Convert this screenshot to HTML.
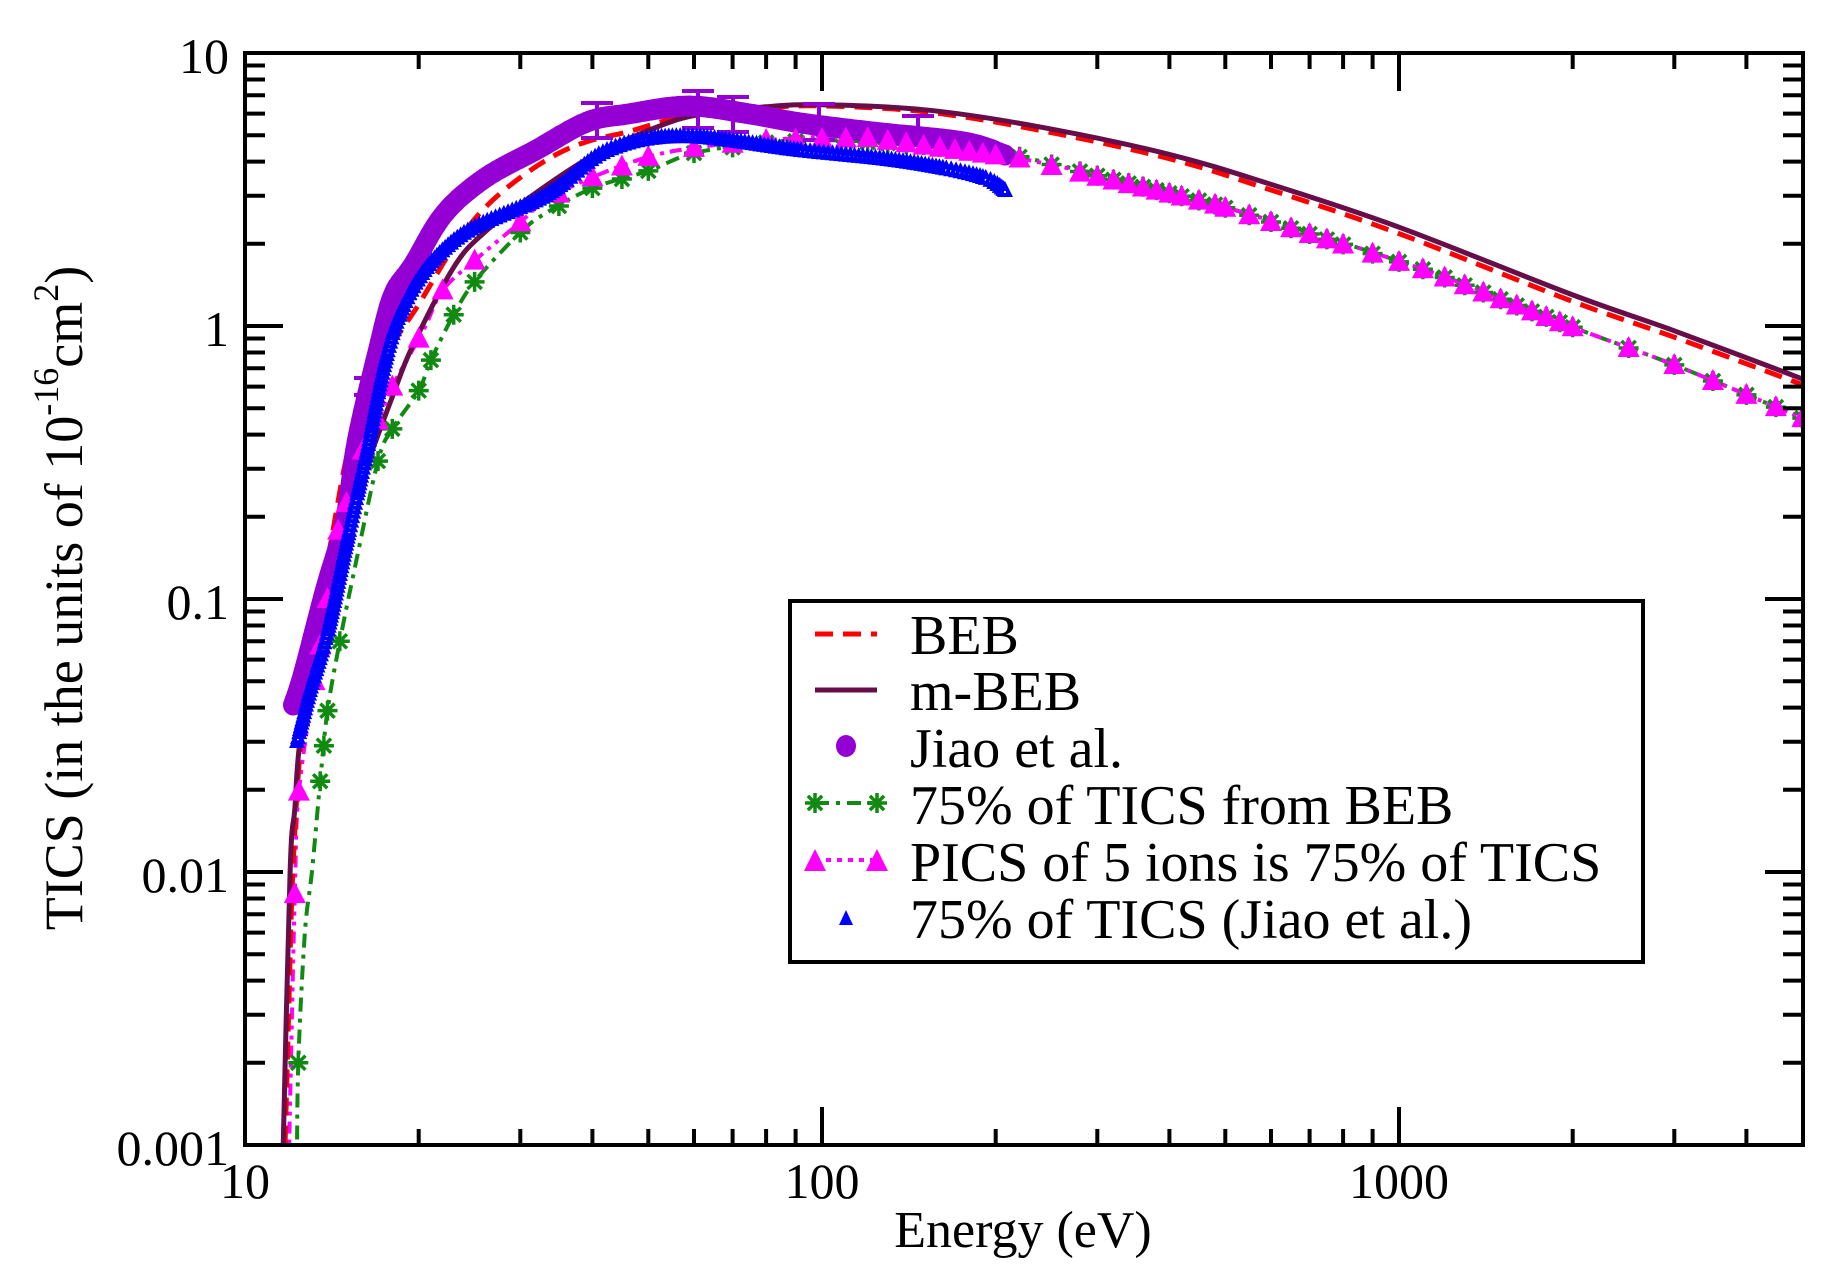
<!DOCTYPE html>
<html><head><meta charset="utf-8"><style>
html,body{margin:0;padding:0;background:#fff;}
svg{display:block;}
text{font-family:"Liberation Serif",serif;fill:#000;}
</style></head><body>
<svg id="s" xmlns="http://www.w3.org/2000/svg" width="1826" height="1277" viewBox="0 0 1826 1277">
<rect width="1826" height="1277" fill="#fff"/>
<g id="plot"></g>
<g id="axes"></g>
<g font-size="50">
<text x="245" y="1198" text-anchor="middle">10</text>
<text x="822" y="1198" text-anchor="middle">100</text>
<text x="1399" y="1198" text-anchor="middle">1000</text>
<text x="229" y="73" text-anchor="end">10</text>
<text x="229" y="346" text-anchor="end">1</text>
<text x="229" y="619" text-anchor="end">0.1</text>
<text x="229" y="892" text-anchor="end">0.01</text>
<text x="229" y="1165" text-anchor="end">0.001</text>
</g>
<text x="1023" y="1247" font-size="52" text-anchor="middle">Energy (eV)</text>
<text transform="translate(82,598) rotate(-90)" font-size="54" text-anchor="middle">TICS (in the units of 10<tspan font-size="36" dy="-24">-16</tspan><tspan dy="24">cm</tspan><tspan font-size="36" dy="-24">2</tspan><tspan dy="24">)</tspan></text>
<g id="legend">
<rect x="790" y="601" width="853" height="361" fill="#fff" stroke="#000" stroke-width="4"/>
<g font-size="56">
<text x="910" y="654">BEB</text>
<text x="910" y="710">m-BEB</text>
<text x="910" y="767">Jiao et al.</text>
<text x="910" y="824">75% of TICS from BEB</text>
<text x="910" y="881">PICS of 5 ions is 75% of TICS</text>
<text x="910" y="938">75% of TICS (Jiao et al.)</text>
</g>
<line x1="815" y1="634" x2="877" y2="634" stroke="#ff0000" stroke-width="5" stroke-dasharray="18,10"/>
<line x1="815" y1="690" x2="877" y2="690" stroke="#670d49" stroke-width="5"/>
<ellipse cx="846" cy="746" rx="10" ry="11" fill="#9400d3"/>
<line x1="815" y1="803" x2="877" y2="803" stroke="#108a10" stroke-width="4" stroke-dasharray="14,7,4,7"/>
<g id="legast"></g>
<line x1="815" y1="860" x2="877" y2="860" stroke="#ff00ff" stroke-width="4" stroke-dasharray="5,6"/>
<polygon points="804,871 826,871 815,849" fill="#ff00ff"/>
<polygon points="866,871 888,871 877,849" fill="#ff00ff"/>
<polygon points="839,925 853,925 846,910" fill="#0000ff"/>
</g>
</svg>
<script>
(function(){
var NS="http://www.w3.org/2000/svg";
function X(E){return 245+(Math.log10(E)-1)*577;}
function Y(v){return 53+(1-Math.log10(v))*273;}
function el(tag,attrs,parent){var e=document.createElementNS(NS,tag);for(var k in attrs)e.setAttribute(k,attrs[k]);(parent||plot).appendChild(e);return e;}
var plot=document.getElementById('plot'),axes=document.getElementById('axes');
var defs=el('defs',{},document.getElementById('s'));
var cp=el('clipPath',{id:'c'},defs);el('rect',{x:245,y:53,width:1558,height:1092},cp);
plot.setAttribute('clip-path','url(#c)');
function toPix(data){return data.map(function(p){return [X(p[0]),Y(p[1])];});}
function smooth(pts){
 var d='M'+pts[0][0].toFixed(1)+' '+pts[0][1].toFixed(1);
 for(var i=0;i<pts.length-1;i++){var p0=pts[i-1]||pts[i],p1=pts[i],p2=pts[i+1],p3=pts[i+2]||p2;
  var c1=[p1[0]+(p2[0]-p0[0])/6,p1[1]+(p2[1]-p0[1])/6],c2=[p2[0]-(p3[0]-p1[0])/6,p2[1]-(p3[1]-p1[1])/6];
  d+='C'+c1[0].toFixed(1)+' '+c1[1].toFixed(1)+' '+c2[0].toFixed(1)+' '+c2[1].toFixed(1)+' '+p2[0].toFixed(1)+' '+p2[1].toFixed(1);}
 return d;}
function logInterp(data,E){
 for(var i=0;i<data.length-1;i++){if(E>=data[i][0]&&E<=data[i+1][0]){var a=data[i],b=data[i+1];var t=(Math.log(E)-Math.log(a[0]))/(Math.log(b[0])-Math.log(a[0]));return Math.exp(Math.log(a[1])+t*(Math.log(b[1])-Math.log(a[1])));}}
 return null;}
var mbeb=[[11.62,0.0008],[11.97,0.01],[12.2,0.017],[12.45,0.03],[13.3,0.07],[14.5,0.15],[15.8,0.26],[18,0.55],[19.5,0.84],[23,1.64],[26,2.2],[31.9,3.07],[40,4.2],[50,5.2],[60,5.9],[80,6.35],[100,6.46],[150,6.2],[234,5.4],[400,4.25],[600,3.3],[1000,2.3],[2000,1.3],[3000,0.96],[5000,0.64]];
var beb=[[11.7,0.0008],[11.9,0.003],[12.1,0.01],[12.5,0.03],[13.2,0.08],[14,0.15],[15,0.33],[16,0.5],[18,0.85],[20,1.2],[23,1.95],[26,2.7],[30,3.5],[35,4.3],[40,4.8],[46,5.14],[59,5.93],[80,6.3],[100,6.4],[150,6.1],[234,5.25],[400,4.1],[600,3.15],[1000,2.18],[2000,1.23],[3000,0.91],[5000,0.61]];
var green=[[12.3,0.0008],[12.37,0.002],[12.7,0.006],[13.06,0.01],[13.5,0.0215],[13.9,0.039],[14.6,0.07],[15.5,0.13],[17,0.32],[18,0.42],[20,0.58],[21,0.75],[23,1.1],[25.1,1.47],[30,2.2],[33.3,2.6],[40,3.2],[50,3.7],[60,4.3],[80,4.7],[100,4.8],[150,4.6],[221,4.16],[476,2.8],[1114,1.6],[2000,0.99],[3000,0.72],[5000,0.46]];
var mag=[[11.9,0.0008],[12.2,0.0083],[12.4,0.0197],[13.2,0.05],[13.9,0.1],[14.5,0.178],[16,0.35],[17,0.45],[18,0.6],[20.4,0.97],[22,1.35],[25.1,1.75],[30,2.4],[33.3,2.9],[39.9,3.5],[49.9,4.16],[60,4.49],[80,4.8],[120,4.88],[221,4.1],[476,2.8],[1114,1.6],[2000,0.99],[3000,0.72],[5000,0.46]];
el('path',{d:smooth(toPix(green)),fill:'none',stroke:'#108a10','stroke-width':4,'stroke-dasharray':'14,7,4,7'});
el('path',{d:smooth(toPix(mag)),fill:'none',stroke:'#ff00ff','stroke-width':4,'stroke-dasharray':'12,6,4,6,4,6'});
el('path',{d:smooth(toPix(beb)),fill:'none',stroke:'#ff0000','stroke-width':5,'stroke-dasharray':'18,10'});
el('path',{d:smooth(toPix(mbeb)),fill:'none',stroke:'#670d49','stroke-width':5});
var mE=[12.2,12.4,13.2,13.5,13.9,14.5,15,16,17,18,20,22,25,30,35,40,45,50,60,70,80,90,100,110,120,130,140,150,160,170,180,190,200,220,250,280,300,320,340,360,380,400,420,450,480,500,550,600,650,700,750,800,900,1000,1100,1200,1300,1400,1500,1600,1700,1800,1900,2000,2500,3000,3500,4000,4500,5000];
var gE=[12.37,13.5,13.7,13.9,14.6,17,18,20,21,23,25,30,35,40,45,50,60,70,80,90,100,110,120,130,140,150,160,170,180,190,200,220,250,280,300,320,340,360,380,400,420,450,480,500,550,600,650,700,750,800,900,1000,1100,1200,1300,1400,1500,1600,1700,1800,1900,2000,2500,3000,3500,4000,4500,5000];
function ast(x,y,r,parent,col){var d='';for(var k=0;k<4;k++){var a=k*Math.PI/4;d+='M'+(x-r*Math.cos(a)).toFixed(1)+' '+(y-r*Math.sin(a)).toFixed(1)+'L'+(x+r*Math.cos(a)).toFixed(1)+' '+(y+r*Math.sin(a)).toFixed(1);}el('path',{d:d,stroke:col||'#108a10','stroke-width':3.5,fill:'none'},parent);}
gE.forEach(function(E){var v=logInterp(green,E);if(v)ast(X(E),Y(v),10);});
var lg=document.getElementById('legast');ast(815,803,10,lg);ast(877,803,10,lg);
function along(pts,step,fn){for(var i=0;i<pts.length-1;i++){var a=pts[i],b=pts[i+1];var L=Math.hypot(b[0]-a[0],b[1]-a[1]);var n=Math.max(1,Math.round(L/step));for(var j=0;j<n;j++){var t=j/n;fn(a[0]+t*(b[0]-a[0]),a[1]+t*(b[1]-a[1]));}}var l=pts[pts.length-1];fn(l[0],l[1]);}
function densify(pts){
 var out=[];for(var i=0;i<pts.length-1;i++){var p0=pts[i-1]||pts[i],p1=pts[i],p2=pts[i+1],p3=pts[i+2]||p2;
  for(var s=0;s<8;s++){var t=s/8,t2=t*t,t3=t2*t;
   out.push([0,1].map(function(k){return 0.5*((2*p1[k])+(-p0[k]+p2[k])*t+(2*p0[k]-5*p1[k]+4*p2[k]-p3[k])*t2+(-p0[k]+3*p1[k]-3*p2[k]+p3[k])*t3);}));}}
 out.push(pts[pts.length-1]);return out;}
var pur=[[293,705],[303,674],[325,590],[345,520],[357,440],[378,350],[393,295],[413,265],[444,214],[485,178],[536,150],[587,122],[628,114],[689,106],[750,114],[801,123],[873,132],[964,142],[1005,155]];
along(densify(pur),3,function(x,y){el('ellipse',{cx:x.toFixed(1),cy:y.toFixed(1),rx:10,ry:10.5,fill:'#9400d3'});});
var eb=[[597,103,138],[698,91,128],[733,97,132],[819,104,140],[918,116,142],[370,378,395]];
eb.forEach(function(b){el('path',{d:'M'+b[0]+' '+b[1]+'V'+b[2]+'M'+(b[0]-16)+' '+b[1]+'H'+(b[0]+16)+'M'+(b[0]-16)+' '+b[2]+'H'+(b[0]+16),stroke:'#9400d3','stroke-width':4,fill:'none'});});
mE.forEach(function(E){var v=logInterp(mag,E);if(!v)return;var x=X(E),y=Y(v);el('polygon',{points:(x-11)+','+(y+9)+' '+(x+11)+','+(y+9)+' '+x+','+(y-12),fill:'#ff00ff'});});
var blu=[[297,741],[310,690],[328,629],[347,540],[365,459],[398,318],[454,240],[546,195],[607,150],[684,136],[801,150],[903,161],[980,176],[1005,190]];
along(densify(blu),4,function(x,y){el('polygon',{points:(x-8)+','+(y+7)+' '+(x+8)+','+(y+7)+' '+x+','+(y-9),fill:'#0000ff'});el('rect',{x:x-1,y:y+1,width:2,height:2,fill:'#fff'});});
el('rect',{x:245,y:53,width:1558,height:1092,fill:'none',stroke:'#000','stroke-width':4},axes);
var d='';
for(var k=1;k<=3;k++){for(var m=1;m<=9;m++){var E=m*Math.pow(10,k);if(E>5000)break;var x=X(E);var L=(m==1)?38:16;if(x<=246||x>=1802)continue;d+='M'+x.toFixed(1)+' 1145V'+(1145-L)+'M'+x.toFixed(1)+' 53V'+(53+L);}}
for(var k=-3;k<=1;k++){for(var m=1;m<=9;m++){var v=m*Math.pow(10,k);if(v>10)break;var y=Y(v);var L=(m==1)?38:20;if(y<=54||y>=1144)continue;d+='M245 '+y.toFixed(1)+'H'+(245+L)+'M1803 '+y.toFixed(1)+'H'+(1803-L);}}
el('path',{d:d,stroke:'#000','stroke-width':4,fill:'none'},axes);
})();
</script>
</body></html>
